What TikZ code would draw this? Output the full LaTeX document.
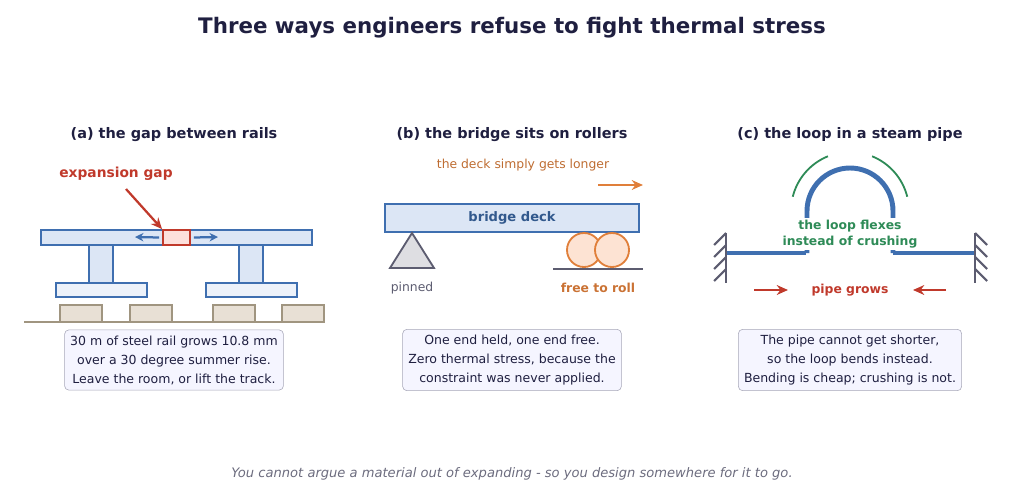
\documentclass[tikz,border=0pt]{standalone}
\usepackage{fontspec}
\setmainfont{DejaVu Sans}
\usetikzlibrary{positioning,arrows.meta}
\definecolor{ink}{HTML}{1F1F40}
\definecolor{steel}{HTML}{3F6FB0}
\definecolor{steelfill}{HTML}{DCE6F5}
\definecolor{hot}{HTML}{C0392B}
\definecolor{hotfill}{HTML}{FDE0DC}
\definecolor{roll}{HTML}{E07F3A}
\definecolor{rollfill}{HTML}{FDE3D3}
\definecolor{leaf}{HTML}{2E8B57}
\definecolor{stone}{HTML}{A09580}
\definecolor{stonefill}{HTML}{E8E0D5}
\definecolor{slate}{HTML}{5C5C70}
\tikzstyle{heading}=[font=\fontsize{10.3}{12}\selectfont\bfseries,text=ink]
\tikzstyle{caption}=[rectangle,rounded corners=3pt,draw=black!25!blue!15!gray!60,fill=blue!4,
text=ink,align=center,font=\fontsize{8.9}{13.5}\selectfont,inner sep=4pt]
\tikzstyle{member}=[draw=steel,fill=steelfill,line width=1.3pt]
\tikzstyle{sleeper}=[draw=stone,fill=stonefill,line width=1pt]
\tikzstyle{push}=[-{Stealth[length=8pt,width=7pt]},line width=1.6pt]
\tikzstyle{pipe}=[draw=steel,line width=3.5pt]
\tikzstyle{wall}=[draw=slate,line width=1.5pt]

\begin{document}
\begin{tikzpicture}[x=0.025cm,y=-0.025cm]
            \useasboundingbox (0,0) rectangle (1024,500);

            \node[font=\fontsize{15.2}{18}\selectfont\bfseries,text=ink] (title) at (512,28) {Three ways engineers refuse to fight thermal stress};

            % GAP PART

            \node[heading] (ha) at (174,135) {(a) the gap between rails};
            \draw[member] (41,230) rectangle (312,245);
            \draw[member] (89,245) rectangle (113,283);
            \draw[member] (239,245) rectangle (263,283);
            \draw[member,fill=steelfill!50] (56,283) rectangle (147,297);
            \draw[member,fill=steelfill!50] (206,283) rectangle (297,297);
            \foreach \x in {60,130,213,282}
                \draw[sleeper] (\x,305) rectangle (\x+42,322);
            \draw[stone,line width=1.3pt] (24,322) -- (324,322);
            \node[draw=hot,fill=hotfill,line width=1.3pt,minimum width=0.675cm,minimum height=0.375cm,inner sep=0] (gap) at (176.5,237.5) {};
            \coordinate (gl) at (135,237);
            \coordinate (gr) at (218,237);
            \draw[push,steel,-{Stealth[length=6pt,width=6pt]}] (gap.west)+(-3,0) -- (gl);
            \draw[push,steel,-{Stealth[length=6pt,width=6pt]}] (gap.east)+(3,0) -- (gr);
            \node[font=\fontsize{9.8}{11}\selectfont\bfseries,text=hot] (gaplbl) at (116,174) {expansion gap};
            \draw[push,hot] (126,189) -- (gap.north west);
            \node[caption] (ca) at (174,360) {30 m of steel rail grows 10.8 mm\\over a 30 degree summer rise.\\Leave the room, or lift the track.};

            % ROLLER PART

            \node[heading] (hb) at (512,135) {(b) the bridge sits on rollers};
            \node[font=\fontsize{8.8}{10}\selectfont,text=roll!85!black] (longer) at (523,165) {the deck simply gets longer};
            \coordinate (l1) at (598,185);
            \coordinate (l2) at (643,185);
            \draw[push,roll] (l1) -- (l2);
            \node[member,minimum width=6.35cm,minimum height=0.7cm,inner sep=0,
                font=\fontsize{9.3}{11}\selectfont\bfseries,text=steel!80!black] (deck) at (512,218) {bridge deck};
            \draw[draw=slate,fill=slate!20,line width=1.3pt] (412,233) -- (434,268) -- (390,268) -- cycle;
            \node[font=\fontsize{8.8}{10}\selectfont,text=slate] (pin) at (412,288) {pinned};
            \foreach \x/\n in {584/r1,612/r2}
                \node[circle,draw=roll,fill=rollfill,line width=1.3pt,minimum size=0.85cm,inner sep=0] (\n) at (\x,250) {};
            \draw[slate,line width=1.5pt] (553,269) -- (643,269);
            \node[font=\fontsize{8.8}{10}\selectfont\bfseries,text=roll!90!black] (free) at (598,288) {free to roll};
            \node[caption] (cb) at (512,360) {One end held, one end free.\\Zero thermal stress, because the\\constraint was never applied.};

            % LOOP PART

            \node[heading] (hc) at (850,135) {(c) the loop in a steam pipe};
            \draw[pipe] (726,253) -- (806,253);
            \draw[pipe] (893,253) -- (975,253);
            \draw[pipe] (807,253) -- (807,211) arc[start angle=180,end angle=360,radius=43] -- (893,253);
            \draw[leaf,line width=1.3pt] (850,211)+(194:59) arc[start angle=194,end angle=248,radius=59];
            \draw[leaf,line width=1.3pt] (850,211)+(292:59) arc[start angle=292,end angle=346,radius=59];
            \draw[wall] (726,233) -- (726,283);
            \draw[wall] (975,233) -- (975,283);
            \foreach \y in {233,245,257,269} {
                \draw[wall] (726,\y) -- (714,\y+12);
                \draw[wall] (975,\y) -- (987,\y+12);
            }
            \node[fill=white,inner sep=1pt,align=center,font=\fontsize{8.8}{11.5}\selectfont\bfseries,text=leaf] (flex) at (850,234) {the loop flexes\\instead of crushing};
            \node[font=\fontsize{8.8}{10}\selectfont\bfseries,text=hot] (grows) at (850,290) {pipe grows};
            \coordinate (p1) at (754,290);
            \coordinate (p2) at (946,290);
            \draw[push,hot] (p1) -- (788,290);
            \draw[push,hot] (p2) -- (913,290);
            \node[caption] (cc) at (850,360) {The pipe cannot get shorter,\\so the loop bends instead.\\Bending is cheap; crushing is not.};

            \node[font=\fontsize{9.3}{11}\selectfont\itshape,text=slate!90] (foot) at (512,474) {You cannot argue a material out of expanding - so you design somewhere for it to go.};
\end{tikzpicture}
\end{document}
